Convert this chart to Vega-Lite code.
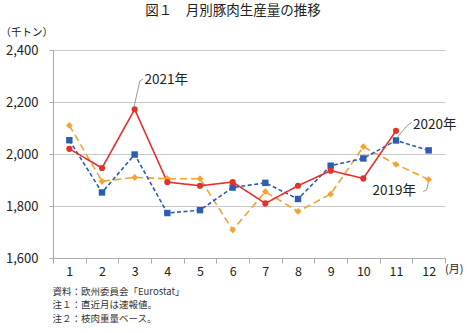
{
  "$schema": "https://vega.github.io/schema/vega-lite/v6.json",
  "width": 392,
  "height": 208,
  "autosize": {"type": "none"},
  "padding": {"left": 53, "top": 50, "right": 22, "bottom": 75},
  "background": "white",
  "title": {
    "text": "図１　月別豚肉生産量の推移",
    "font": "Noto Sans CJK JP",
    "fontSize": 13.5,
    "fontWeight": "normal",
    "color": "#222222",
    "anchor": "middle",
    "frame": "group",
    "dx": -16,
    "offset": 10
  },
  "config": {"view": {"stroke": null}, "font": "Noto Sans CJK JP"},
  "datasets": {
    "series": [
      {"year": "2019", "month": 1, "value": 2110},
      {"year": "2019", "month": 2, "value": 1895},
      {"year": "2019", "month": 3, "value": 1910},
      {"year": "2019", "month": 4, "value": 1905},
      {"year": "2019", "month": 5, "value": 1905},
      {"year": "2019", "month": 6, "value": 1708},
      {"year": "2019", "month": 7, "value": 1855},
      {"year": "2019", "month": 8, "value": 1779},
      {"year": "2019", "month": 9, "value": 1846},
      {"year": "2019", "month": 10, "value": 2028},
      {"year": "2019", "month": 11, "value": 1960},
      {"year": "2019", "month": 12, "value": 1902},
      {"year": "2020", "month": 1, "value": 2053},
      {"year": "2020", "month": 2, "value": 1852},
      {"year": "2020", "month": 3, "value": 1998},
      {"year": "2020", "month": 4, "value": 1773},
      {"year": "2020", "month": 5, "value": 1784},
      {"year": "2020", "month": 6, "value": 1871},
      {"year": "2020", "month": 7, "value": 1889},
      {"year": "2020", "month": 8, "value": 1827},
      {"year": "2020", "month": 9, "value": 1955},
      {"year": "2020", "month": 10, "value": 1983},
      {"year": "2020", "month": 11, "value": 2052},
      {"year": "2020", "month": 12, "value": 2014},
      {"year": "2021", "month": 1, "value": 2020},
      {"year": "2021", "month": 2, "value": 1946},
      {"year": "2021", "month": 3, "value": 2172},
      {"year": "2021", "month": 4, "value": 1892},
      {"year": "2021", "month": 5, "value": 1878},
      {"year": "2021", "month": 6, "value": 1892},
      {"year": "2021", "month": 7, "value": 1810},
      {"year": "2021", "month": 8, "value": 1878},
      {"year": "2021", "month": 9, "value": 1936},
      {"year": "2021", "month": 10, "value": 1906},
      {"year": "2021", "month": 11, "value": 2089}
    ],
    "leaders": [
      {"grp": "2021", "ord": 1, "month": 2.98, "value": 2182},
      {"grp": "2021", "ord": 2, "month": 3.16, "value": 2281},
      {"grp": "2021", "ord": 3, "month": 3.26, "value": 2289},
      {"grp": "2020", "ord": 1, "month": 11.02, "value": 2061},
      {"grp": "2020", "ord": 2, "month": 11.36, "value": 2112},
      {"grp": "2020", "ord": 3, "month": 11.48, "value": 2121},
      {"grp": "2019", "ord": 1, "month": 11.99, "value": 1892},
      {"grp": "2019", "ord": 2, "month": 11.94, "value": 1862},
      {"grp": "2019", "ord": 3, "month": 11.83, "value": 1856}
    ],
    "labels": [
      {"text": "2021年", "month": 3.3, "value": 2285},
      {"text": "2020年", "month": 11.52, "value": 2112},
      {"text": "2019年", "month": 10.28, "value": 1856}
    ],
    "unit": [
      {"text": "(月)", "month": 12.5, "value": 1600}
    ]
  },
  "encoding": {
    "x": {
      "field": "month",
      "type": "quantitative",
      "scale": {"domain": [0.5, 12.5], "nice": false, "zero": false},
      "axis": {
        "values": [0.5, 1, 1.5, 2, 2.5, 3, 3.5, 4, 4.5, 5, 5.5, 6, 6.5, 7, 7.5, 8, 8.5, 9, 9.5, 10, 10.5, 11, 11.5, 12, 12.5],
        "labelExpr": "datum.value % 1 === 0 ? format(datum.value, 'd') : ''",
        "tickOpacity": {"condition": {"test": "datum.value % 1 !== 0", "value": 1}, "value": 0},
        "tickSize": 5,
        "tickColor": "#aaaaaa",
        "domainColor": "#aaaaaa",
        "grid": false,
        "labelFontSize": 12.5,
        "labelColor": "#222222",
        "labelPadding": 2,
        "labelFlush": false,
        "labelOverlap": false,
        "title": ["資料：欧州委員会「Eurostat」", "注１：直近月は速報値。", "注２：枝肉重量ベース。"],
        "titleX": -1,
        "titleY": 28,
        "titleAlign": "left",
        "titleAnchor": null,
        "titleBaseline": "top",
        "titleFontSize": 9.5,
        "titleFontWeight": "normal",
        "titleLineHeight": 13.5,
        "titleColor": "#333333"
      }
    },
    "y": {
      "field": "value",
      "type": "quantitative",
      "scale": {"domain": [1600, 2400], "nice": false, "zero": false},
      "axis": {
        "values": [1600, 1800, 2000, 2200, 2400],
        "format": ",d",
        "grid": true,
        "gridColor": "#c8c8c8",
        "domainColor": "#aaaaaa",
        "tickColor": "#aaaaaa",
        "tickSize": 4,
        "labelFontSize": 13,
        "labelPadding": 11,
        "labelColor": "#222222",
        "title": "（千トン）",
        "titleAngle": 0,
        "titleX": -53,
        "titleY": -18,
        "titleAlign": "left",
        "titleAnchor": null,
        "titleBaseline": "middle",
        "titleFontSize": 10.5,
        "titleFontWeight": "normal",
        "titleColor": "#222222"
      }
    }
  },
  "layer": [
    {
      "data": {"name": "series"},
      "mark": {"type": "line", "strokeWidth": 1.6},
      "encoding": {
        "color": {"field": "year", "type": "nominal", "scale": {"domain": ["2019", "2020", "2021"], "range": ["#F5A22E", "#2C5DB0", "#E6302C"]}, "legend": null},
        "strokeDash": {"field": "year", "type": "nominal", "scale": {"domain": ["2019", "2020", "2021"], "range": [[7, 4], [4, 2.5], [1, 0]]}, "legend": null}
      }
    },
    {
      "data": {"name": "series"},
      "mark": {"type": "point", "filled": true, "opacity": 1},
      "encoding": {
        "color": {"field": "year", "type": "nominal", "scale": {"domain": ["2019", "2020", "2021"], "range": ["#F5A22E", "#2C5DB0", "#E6302C"]}, "legend": null},
        "shape": {"field": "year", "type": "nominal", "scale": {"domain": ["2019", "2020", "2021"], "range": ["diamond", "square", "circle"]}, "legend": null},
        "size": {"field": "year", "type": "nominal", "scale": {"domain": ["2019", "2020", "2021"], "range": [45, 38, 42]}, "legend": null}
      }
    },
    {
      "data": {"name": "leaders"},
      "mark": {"type": "line", "color": "#808080", "strokeWidth": 0.8},
      "encoding": {
        "detail": {"field": "grp", "type": "nominal"},
        "order": {"field": "ord", "type": "quantitative"}
      }
    },
    {
      "data": {"name": "labels"},
      "mark": {"type": "text", "align": "left", "baseline": "middle", "fontSize": 13.5, "color": "#222222", "font": "Noto Sans CJK JP"},
      "encoding": {"text": {"field": "text", "type": "nominal"}}
    },
    {
      "data": {"name": "unit"},
      "mark": {"type": "text", "align": "left", "baseline": "middle", "dx": 0, "dy": 12, "fontSize": 11, "color": "#222222", "font": "Noto Sans CJK JP"},
      "encoding": {"text": {"field": "text", "type": "nominal"}}
    }
  ]
}
